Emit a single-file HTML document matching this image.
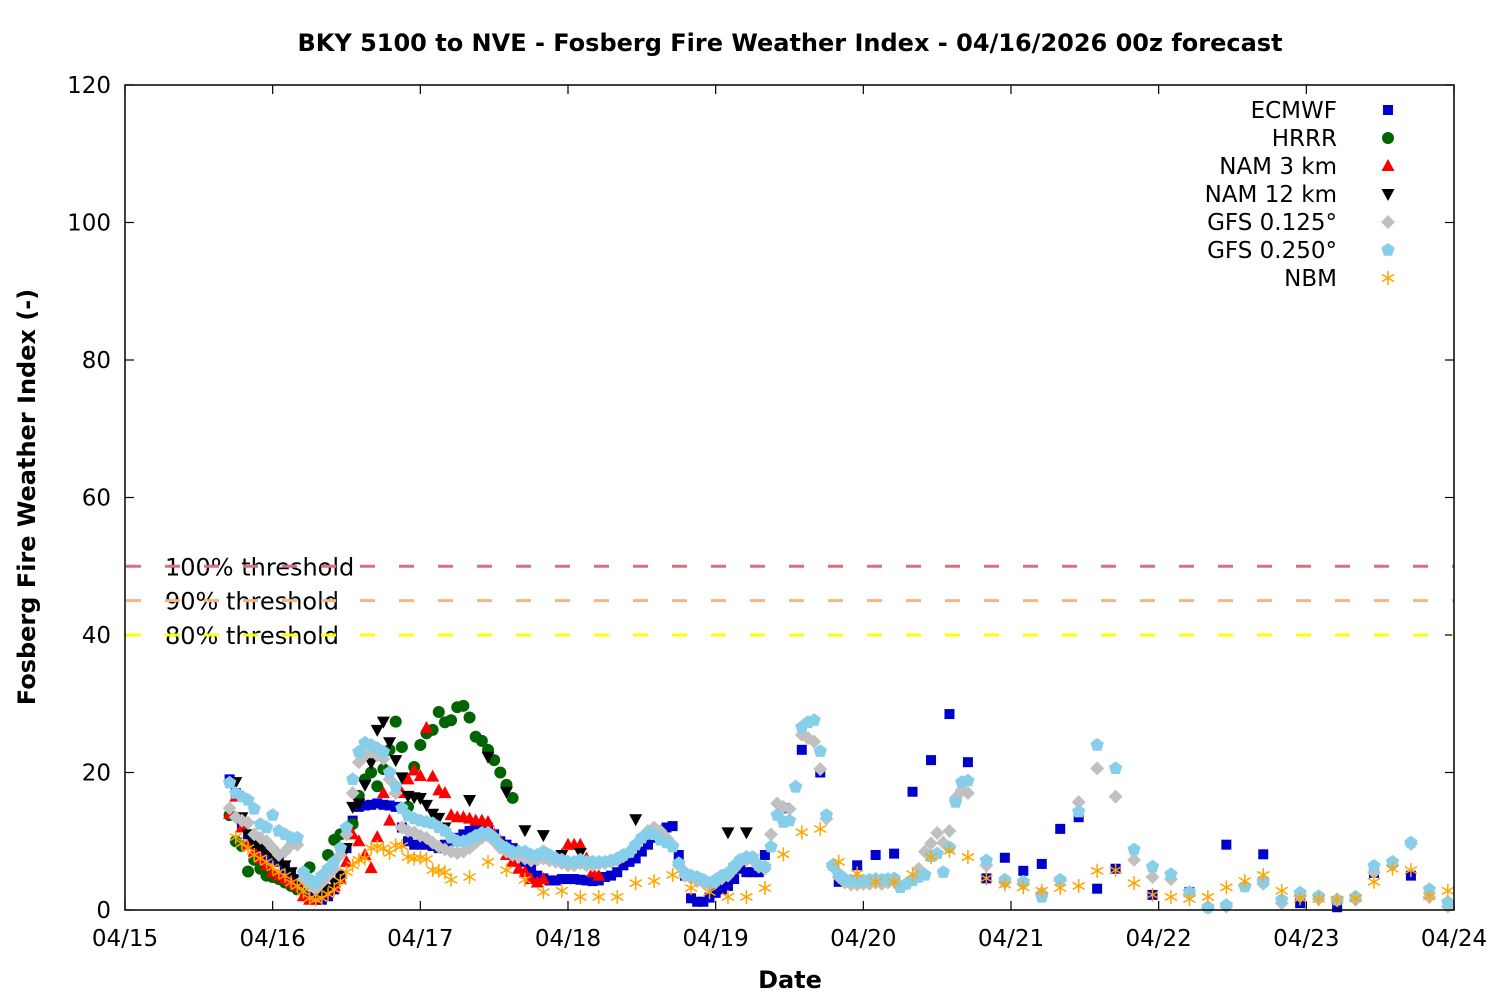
<!DOCTYPE html>
<html><head><meta charset="utf-8"><title>Fosberg Fire Weather Index</title>
<style>
html,body{margin:0;padding:0;background:#fff;}
svg{display:block;font-family:"DejaVu Sans","Liberation Sans",sans-serif;}
</style></head>
<body>
<svg id="chart" width="1500" height="1000" viewBox="0 0 1500 1000" xmlns="http://www.w3.org/2000/svg">
<rect x="0" y="0" width="1500" height="1000" fill="#fff"/>
<text x="790" y="51" text-anchor="middle" font-size="24" font-weight="bold">BKY 5100 to NVE - Fosberg Fire Weather Index - 04/16/2026 00z forecast</text>
<text x="790" y="988" text-anchor="middle" font-size="24" font-weight="bold">Date</text>
<text transform="translate(35,497) rotate(-90)" text-anchor="middle" font-size="24" font-weight="bold">Fosberg Fire Weather Index (-)</text>
<g id="grid"></g>
<g id="thresholds"></g>
<g id="marks"></g>
<g id="legend"></g>
<rect x="125" y="85" width="1329" height="825" fill="none" stroke="#000" stroke-width="1.5"/>
</svg>
<script>
const xTickLabels = ["04/15","04/16","04/17","04/18","04/19","04/20","04/21","04/22","04/23","04/24"];
const yTicks = [0,20,40,60,80,100,120];
const thresholdValues = [50,45,40];
const thresholdLabels = ["100% threshold","90% threshold","80% threshold"];
const seriesNames = ["ECMWF","HRRR","NAM 3 km","NAM 12 km","GFS 0.125°","GFS 0.250°","NBM"];

const ecmwfHourlyStart = 17;
const ecmwfHourly = [19,17,12.5,11,9.7,8.5,8,7.5,7,6,5,4,3,2,1.5,1.5,2,3,5,9,13,15,15.2,15.3,15.5,15.3,15.2,15,12,10,9.5,9.5,9.5,9.3,9,9.5,10,10.5,11,11.5,11.7,12,12,11,10,9.5,9,8,7,6,5,4.6,4.3,4.3,4.5,4.5,4.5,4.4,4.3,4.2,4.3,4.8,5,5.5,6.5,7,7.5,8.5,9.5,10.5,11.5,12,12.2,8,5,1.7,1.2,1.2,1.8,2.5,3,3.5,4.5,6,5.5,5.5,5.5,8];
const ecmwf3Start = 107;
const ecmwf3h = [14.8,23.3,20,4.1,6.5,8,8.2,17.2,21.8,28.5,21.5,4.6,7.6,5.7,6.7,11.8,13.5,3.1,6];
const ecmwf6Start = 167;
const ecmwf6h = [2.2,2.6,9.5,8.1,1,0.4,5.4,5];

const hrrrStart = 17;
const hrrr = [13.8,10,9.3,5.6,7.3,6,5,4.8,4.5,4,3.5,3,3,6.2,3.5,4.5,8,10.2,11,11.3,12.5,16.6,19,20,18,20.5,23.3,27.4,23.7,15,20.8,24,25.7,26.2,28.8,27.3,27.6,29.5,29.7,28,25.2,24.6,23.3,21.8,20,18.2,16.3];

const nam3Start = 17;
const nam3 = [14,16.5,12,9.5,8.5,7.5,6.5,5.5,5,4.5,4,3.5,2,1.5,1.7,2.5,3,3.5,4.5,7,11,10,8,6.1,10.6,17,13,17.5,17,19,20.3,19.5,26.5,19.4,17.4,17,13.8,13.5,13.5,13.3,13,13,12.8,11,10,8,7,6,5.5,4.5,4,4.5,7.5,7.5,8,9.5,9.5,9.5,7.5,5.5,5];

const nam12HourlyStart = 18;
const nam12Hourly = [18.6,13.5,11,9.5,9,8.5,8,7.3,6.5,5.5,4.5,4,3.5,2.5,2.5,3,4,5,9,15,15.5,18.2,21.4,26.2,27.4,24.4,21.8,19.3,16.6,16.4,16.3,15.3,14,13.4,12];
const nam12LateHours = [56,59,62,65,68,71,74,83,98,101];
const nam12Late = [16,22.3,17.2,11.6,10.9,8,8.3,13.2,11.3,11.3];

const gfs125HourlyStart = 17;
const gfs125Hourly = [14.8,13.5,13,12.7,11,10.5,10,9,8,8.5,9.5,9.5,4.5,3.5,3,4,5,6,8,11,17,21.5,22.5,23,22.5,22,19,17,12,11.5,11.3,10.8,10.5,9.8,9.2,8.8,8.5,8.3,8.5,9,9.8,10.5,10.8,10,9,8.5,8,7.8,7.5,7.2,7.3,7.5,7.2,7,6.8,6.5,6.5,6.8,6.5,6.5,6.7,6.8,7,7.3,7.8,8.5,9.5,10.5,11.5,12,11.5,10.5,9.5,6.5,5,4.6,4.2,4,3.7,4,4.6,5,6,7,7.3,7.3,6.3,6,11,15.5,15,14.7,18,25.5,25,24.5,20.5,13.3,6.3,4.8,4,3.7,3.7,3.8,3.8,4,3.8,4,4.2,3.5,3.8,4.5,6,8.5,9.7,11.2,9.8,11.5,16.3,17.4,17];
const gfs125ThreeStart = 140;
const gfs125Three = [6.5,4,3.8,2.5,4.3,15.7,20.6,16.5,7.3,4.8,4.5,2.3,0.3,0.5,3.5,3.8,1,2,1.6,1.4,1.5,5.5,6.5,9.6,1.9,0.5];

const gfs250HourlyStart = 17;
const gfs250Hourly = [18.5,17,16.5,16,14.7,12.5,12,13.8,11.5,11,10.5,10.5,5.5,4.5,4,5,6,7,9,12,19,23,24.3,24,23.5,23,20,18,14.8,13.7,13.3,13,12.8,12.6,12,11.5,10.5,10,10,10.3,10.8,11.2,11.2,10.5,9.5,9,8.5,8.5,8.5,8,8,8.5,8,7.5,7.3,7,7,7.3,7,7,7,7,7.2,7.5,8,8.4,9.5,10.5,11.2,11,10.2,9.8,9.2,6.8,5.4,5,4.8,4.4,3.9,4.4,5,5.4,6.4,7.3,7.7,7.7,6.5,6.3,9.2,13.8,12.8,13,17.9,26.6,27.3,27.6,23.1,13.8,6.5,5.2,4.5,4.3,4.3,4.3,4.4,4.5,4.4,4.5,4.6,3.3,3.8,4.3,4.8,5.1,7.8,8.2,5.5,9.1,15.7,18.6,18.8];
const gfs250ThreeStart = 140;
const gfs250Three = [7.2,4.4,4.1,1.9,4.4,14.3,24,20.6,8.8,6.3,5.2,2.6,0.4,0.7,3.4,4.1,1.5,2.5,2,1.5,1.9,6.4,7,9.8,3,1.1];

const nbmHourlyStart = 18;
const nbmHourly = [10.6,9.7,9,8,7.5,7,6.2,5.5,5,4,3.5,2.7,1.7,1.5,1.7,2.3,3,4.2,5.5,6.5,7.3,7.5,9,9.2,9,8.3,9.4,9.3,7.7,7.5,7.6,7.4,5.8,5.7,5.5,4.4];
const nbmThreeStart = 56;
const nbmThree = [4.8,7,5.8,4.4,2.6,2.8,1.9,1.9,1.9,3.9,4.2,5.1,3.2,2.6,1.9,1.9,3.2,8.1,11.3,11.8,7,5.3,4.1,4.1,5.2,7.7,8.6,7.7,4.6,3.7,3.3,2.8,3.2,3.5,5.7,5.8,3.9,2.2,1.9,1.6,1.9,3.3,4.2,5.1,2.8,1.7,1.6,1.5,1.7,4.1,6,5.8,2,2.8];

const NS = "http://www.w3.org/2000/svg";
const X0 = 125, X1 = 1454, Y0 = 910, Y1 = 85;
const totalHours = (xTickLabels.length - 1) * 24;
function xs(h){ return X0 + h * (X1 - X0) / totalHours; }
function ys(v){ return Y0 - v * (Y0 - Y1) / 120; }
function mk(tag, attrs, parent){ const e = document.createElementNS(NS, tag); for (const k in attrs) e.setAttribute(k, attrs[k]); parent.appendChild(e); return e; }

const grid = document.getElementById('grid');
yTicks.forEach(v => {
  const y = ys(v);
  const t1 = mk('line', {x1:X0, x2:X0+9, y1:y, y2:y, stroke:'#000', 'stroke-width':1.2}, grid);
  
  
  const t2 = mk('line', {x1:X1-9, x2:X1, y1:y, y2:y, stroke:'#000', 'stroke-width':1.2}, grid);
  
  
  const tx = mk('text', {x:111, y:y+8, 'text-anchor':'end', 'font-size':23}, grid);
  tx.textContent = v;
  
  
});
xTickLabels.forEach((lab, i) => {
  const x = xs(i * 24);
  const t1 = mk('line', {x1:x, x2:x, y1:Y0, y2:Y0-9, stroke:'#000', 'stroke-width':1.2}, grid);
  
  
  const t2 = mk('line', {x1:x, x2:x, y1:Y1, y2:Y1+9, stroke:'#000', 'stroke-width':1.2}, grid);
  
  
  const tx = mk('text', {x:x, y:946, 'text-anchor':'middle', 'font-size':23}, grid);
  tx.textContent = lab;
  
  
});

const thr = document.getElementById('thresholds');
const thrColors = ['#d8707f','#f5b683','#ffff00'];
thresholdValues.forEach((v, i) => {
  const y = ys(v);
  const tx = mk('text', {x:165, y:y+9, 'font-size':24}, thr);
  tx.textContent = thresholdLabels[i];
  
  
  const ln = mk('line', {x1:X0+1, x2:X1, y1:y, y2:y, stroke:thrColors[i], 'stroke-width':3, 'stroke-dasharray':'15 24'}, thr);
  
  
});

const marks = document.getElementById('marks');
function marker(type, cx, cy, parent){
  let e;
  if (type === 0) e = mk('rect', {x:cx-5, y:cy-5, width:10, height:10, fill:'#0000cd'}, parent);
  else if (type === 1) e = mk('circle', {cx:cx, cy:cy, r:6, fill:'#006400'}, parent);
  else if (type === 2) e = mk('polygon', {points:`${cx},${cy-7} ${cx+6.5},${cy+5} ${cx-6.5},${cy+5}`, fill:'#ff0000'}, parent);
  else if (type === 3) e = mk('polygon', {points:`${cx},${cy+7} ${cx+6.5},${cy-5} ${cx-6.5},${cy-5}`, fill:'#000'}, parent);
  else if (type === 4) e = mk('polygon', {points:`${cx},${cy-7} ${cx+7},${cy} ${cx},${cy+7} ${cx-7},${cy}`, fill:'#c0c0c0'}, parent);
  else if (type === 5) {
    let p = [];
    for (let k = 0; k < 5; k++) { const a = -Math.PI/2 + k*2*Math.PI/5; p.push((cx+7*Math.cos(a)).toFixed(1)+','+(cy+7*Math.sin(a)).toFixed(1)); }
    e = mk('polygon', {points:p.join(' '), fill:'#87ceeb'}, parent);
  } else {
    e = mk('g', {stroke:'#ffa500', 'stroke-width':1.5}, parent);
    for (let k = 0; k < 3; k++) { const a = k*Math.PI/3 + Math.PI/2; mk('line', {x1:cx-7*Math.cos(a), y1:cy-7*Math.sin(a), x2:cx+7*Math.cos(a), y2:cy+7*Math.sin(a)}, e); }
  }
  return e;
}
function plotRun(type, name, start, step, vals){
  const g = mk('g', {}, marks);
  
  
  vals.forEach((v, i) => {
    const m = marker(type, xs(start + i*step), ys(v), g);
    
    
  });
}
function plotPairs(type, name, hours, vals){
  const g = mk('g', {}, marks);
  
  
  vals.forEach((v, i) => {
    const m = marker(type, xs(hours[i]), ys(v), g);
    
    
  });
}
plotRun(0, 'ecmwf-series', ecmwfHourlyStart, 1, ecmwfHourly);
plotRun(0, 'ecmwf-series-3h', ecmwf3Start, 3, ecmwf3h);
plotRun(0, 'ecmwf-series-6h', ecmwf6Start, 6, ecmwf6h);
plotRun(1, 'hrrr-series', hrrrStart, 1, hrrr);
plotRun(2, 'nam3-series', nam3Start, 1, nam3);
plotRun(3, 'nam12-series', nam12HourlyStart, 1, nam12Hourly);
plotPairs(3, 'nam12-series-late', nam12LateHours, nam12Late);
plotRun(4, 'gfs125-series', gfs125HourlyStart, 1, gfs125Hourly);
plotRun(4, 'gfs125-series-3h', gfs125ThreeStart, 3, gfs125Three);
plotRun(5, 'gfs250-series', gfs250HourlyStart, 1, gfs250Hourly);
plotRun(5, 'gfs250-series-3h', gfs250ThreeStart, 3, gfs250Three);
plotRun(6, 'nbm-series', nbmHourlyStart, 1, nbmHourly);
plotRun(6, 'nbm-series-3h', nbmThreeStart, 3, nbmThree);

const leg = document.getElementById('legend');
seriesNames.forEach((n, i) => {
  const y = 110 + i*28;
  const tx = mk('text', {x:1337, y:y+8, 'text-anchor':'end', 'font-size':23}, leg);
  tx.textContent = n;
  
  
  const m = marker(i, 1388, y, leg);
  
  
});
</script>
</body></html>
